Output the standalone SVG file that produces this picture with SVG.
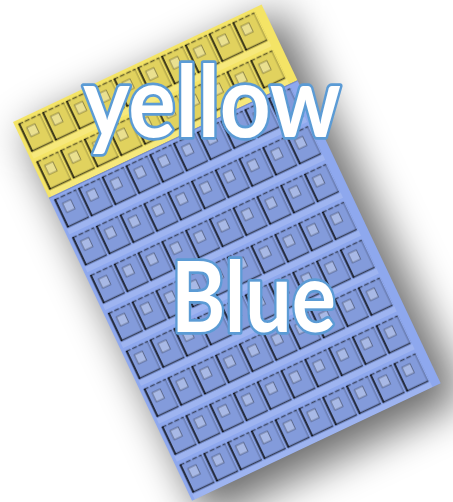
<svg xmlns="http://www.w3.org/2000/svg" width="453" height="502" viewBox="0 0 453 502">
  <style>
    .lbl { font-family: "Lato", "Open Sans", "Liberation Sans", sans-serif; font-weight: 700; fill: #ffffff; stroke: #5b9bd5; stroke-width: 5.5; stroke-linejoin: round; paint-order: stroke; }
    .dk { stroke: #000; fill: none; }
  </style>
  <defs>
    <filter id="blur" x="-50%" y="-50%" width="200%" height="200%">
      <feGaussianBlur stdDeviation="21"/>
    </filter>
    <pattern id="cells" patternUnits="userSpaceOnUse" x="3" y="0" width="26.3" height="41.9">
      <rect x="1" y="4" width="24" height="31" fill="#000" fill-opacity="0.08"/>
      <line class="dk" x1="1" y1="4.5" x2="25" y2="4.5" stroke-opacity="0.55" stroke-width="1.3" stroke-dasharray="5 2"/>
      <line class="dk" x1="1.8" y1="4" x2="1.8" y2="35" stroke-opacity="0.7" stroke-width="2.2"/>
      <line class="dk" x1="1" y1="34.5" x2="25" y2="34.5" stroke-opacity="0.6" stroke-width="1.6"/>
      <line class="dk" x1="24.5" y1="4" x2="24.5" y2="35" stroke-opacity="0.3" stroke-width="1"/>
      <rect x="7" y="11" width="9" height="10" fill="#fff" fill-opacity="0.3" stroke="#000" stroke-opacity="0.4" stroke-width="0.9"/>
      <rect x="0" y="36.2" width="26.3" height="5.7" fill="#fff" fill-opacity="0.14"/>
    </pattern>
  </defs>

  <g id="sheet" transform="translate(13,122) rotate(-25.3)">
    <rect id="shadow" x="6" y="14" width="284" height="428" fill="#000" fill-opacity="0.58" filter="url(#blur)"/>
    <g id="yellow">
      <rect x="0" y="0" width="275" height="83.8" fill="#f4e466"/>
    </g>
    <g id="blue">
      <rect x="0" y="83.8" width="275" height="335.2" fill="#8ea8ee"/>
      <line x1="0" y1="84.3" x2="275" y2="84.3" stroke="#000" stroke-opacity="0.15" stroke-width="1"/>
    </g>
    <rect id="grid" x="3" y="0" width="263" height="419" fill="url(#cells)"/>
  </g>

  <g id="label-yellow">
    <text class="lbl" x="83" y="136.5" font-size="100" textLength="258" lengthAdjust="spacingAndGlyphs">yellow</text>
  </g>
  <g id="label-blue">
    <text class="lbl" x="171" y="332" font-size="98" textLength="165" lengthAdjust="spacingAndGlyphs">Blue</text>
  </g>
</svg>
